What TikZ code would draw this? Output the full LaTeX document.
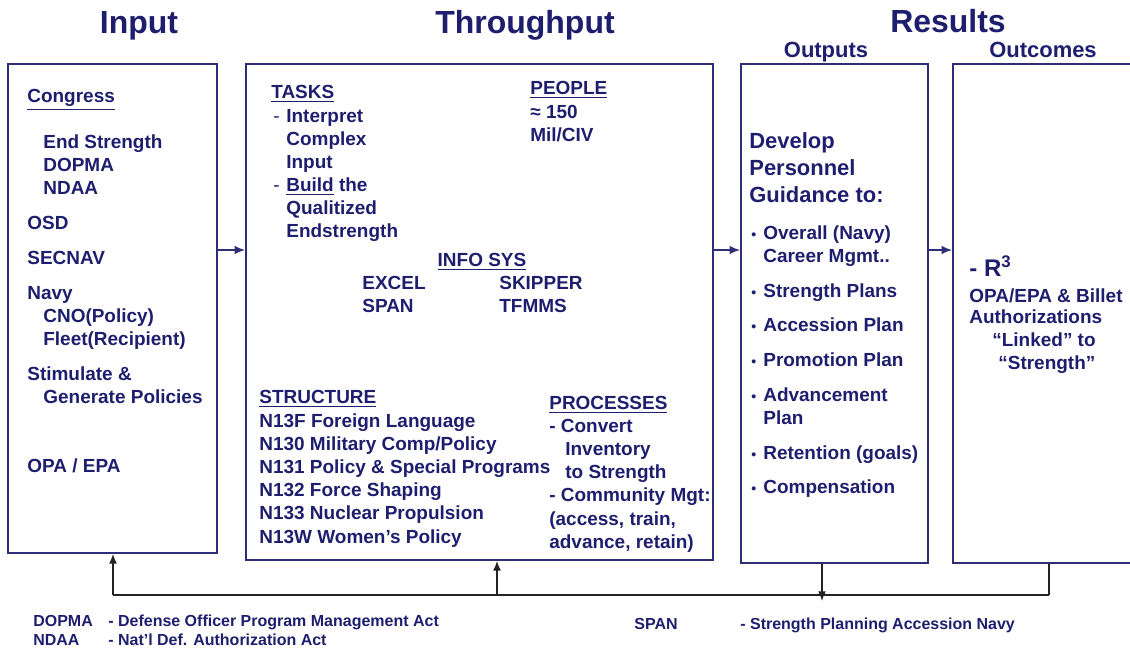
\documentclass[tikz,border=0pt]{standalone}
\usepackage{fontspec}
\setmainfont{Liberation Sans}
\usetikzlibrary{arrows.meta}
\definecolor{navytext}{RGB}{30,30,110}
\definecolor{navyline}{RGB}{46,46,118}
\definecolor{darkline}{RGB}{35,35,35}
\begin{document}
\begin{tikzpicture}[x=0.02cm,y=-0.02cm,
    every node/.style={inner sep=0pt,text=navytext,font=\bfseries\fontsize{10.8}{13}\selectfont},
    txt/.style={anchor=west,text height=1.5ex,text depth=.25ex},
    title/.style={text height=1.5ex,text depth=.25ex,font=\bfseries\fontsize{18.2}{20}\selectfont},
    subtitle/.style={text height=1.5ex,text depth=.25ex,font=\bfseries\fontsize{12.5}{14}\selectfont},
    bigtxt/.style={txt,font=\bfseries\fontsize{12.5}{14}\selectfont},
    foot/.style={txt,font=\bfseries\fontsize{9.1}{11}\selectfont},
    dashtxt/.style={txt,font=\mdseries\fontsize{10.8}{13}\selectfont},
    box/.style={draw=\BOXCOLOR,line width=1.1pt},
    flow/.style={draw=\BOXCOLOR,line width=1pt,-{Latex[length=6pt,width=5pt]}},
    back/.style={draw=\LINECOLOR,line width=0.8pt},
    backarrow/.style={back,-{Latex[length=5.5pt,width=4.5pt]}}]

\def\BOXCOLOR{navyline}
\def\LINECOLOR{darkline}
\def\BUL{\makebox[0.24cm][l]{\fontsize{8}{8}\selectfont\textbullet}}
	\clip (0,0) rectangle (1130,650);

	\node[title] (tinput) at (139,28) {Input};
	\node[title] (tthru) at (525,28) {Throughput};
	\node[title] (tresults) at (948,27) {Results};
	\node[subtitle] (toutputs) at (826,52) {Outputs};
	\node[subtitle] (toutcomes) at (1043,52) {Outcomes};

	\node[box,minimum width=4.18cm,minimum height=9.78cm] (input) at (112.5,308.5) {};
	\node[box,minimum width=9.34cm,minimum height=9.92cm] (thru) at (479.5,312) {};
	\node[box,minimum width=3.74cm,minimum height=9.98cm] (outputs) at (834.5,313.5) {};
	\node[box,minimum width=3.74cm,minimum height=9.98cm] (outcomes) at (1046.5,313.5) {};

	\node[txt] (congress) at (27,97) {\underline{Congress}};
	\node[txt] (endstr) at (43,143) {End Strength};
	\node[txt] (dopma) at (43,166) {DOPMA};
	\node[txt] (ndaa) at (43,189) {NDAA};
	\node[txt] (osd) at (27,224) {OSD};
	\node[txt] (secnav) at (27,259) {SECNAV};
	\node[txt] (navy) at (27,294) {Navy};
	\node[txt] (cno) at (43,317) {CNO(Policy)};
	\node[txt] (fleet) at (43,340) {Fleet(Recipient)};
	\node[txt] (stim) at (27,375) {Stimulate \&};
	\node[txt] (gen) at (43,398) {Generate Policies};
	\node[txt] (opaepa) at (27,467) {OPA / EPA};

	\node[txt] (tasks) at (271,93) {\underline{TASKS}};
	\node[dashtxt] (dasha) at (273,117) {-};
	\node[txt] (interp) at (286,117) {Interpret};
	\node[txt] (complex) at (286,140) {Complex};
	\node[txt] (inp) at (286,163) {Input};
	\node[dashtxt] (dashb) at (273,186) {-};
	\node[txt] (build) at (286,186) {\underline{Build} the};
	\node[txt] (qual) at (286,209) {Qualitized};
	\node[txt] (endstrength) at (286,232) {Endstrength};
	\node[txt] (people) at (530,89) {\underline{PEOPLE}};
	\node[txt] (approx) at (530,113) {≈ 150};
	\node[txt] (milciv) at (530,136) {Mil/CIV};
	\node[txt,anchor=center] (infosys) at (482,261) {\underline{INFO SYS}};
	\node[txt] (excel) at (362,284) {EXCEL};
	\node[txt] (skipper) at (499,284) {SKIPPER};
	\node[txt] (span) at (362,307) {SPAN};
	\node[txt] (tfmms) at (499,307) {TFMMS};
	\node[txt] (structure) at (259,398) {\underline{STRUCTURE}};
	\node[txt] (nf) at (259,422) {N13F Foreign Language};
	\node[txt] (nzero) at (259,445) {N130 Military Comp/Policy};
	\node[txt] (none) at (259,468) {N131 Policy \& Special Programs};
	\node[txt] (ntwo) at (259,491) {N132 Force Shaping};
	\node[txt] (nthree) at (259,514) {N133 Nuclear Propulsion};
	\node[txt] (nw) at (259,538) {N13W Women’s Policy};
	\node[txt] (processes) at (549,404) {\underline{PROCESSES}};
	\node[txt] (convert) at (549,427) {- Convert};
	\node[txt] (inventory) at (565,450) {Inventory};
	\node[txt] (tostrength) at (565,473) {to Strength};
	\node[txt] (community) at (549,496) {- Community Mgt:};
	\node[txt] (access) at (549,520) {(access, train,};
	\node[txt] (advance) at (549,543) {advance, retain)};

	\node[bigtxt] (develop) at (749,143) {Develop};
	\node[bigtxt] (personnel) at (749,170) {Personnel};
	\node[bigtxt] (guidance) at (749,197) {Guidance to:};
	\node[txt] (overall) at (751,234) {\BUL Overall (Navy)};
	\node[txt] (career) at (763,257) {Career Mgmt..};
	\node[txt] (strplans) at (751,292) {\BUL Strength Plans};
	\node[txt] (accplan) at (751,326) {\BUL Accession Plan};
	\node[txt] (promplan) at (751,361) {\BUL Promotion Plan};
	\node[txt] (advplan) at (751,396) {\BUL Advancement};
	\node[txt] (plan) at (763,419) {Plan};
	\node[txt] (retention) at (751,454) {\BUL Retention (goals)};
	\node[txt] (compensation) at (751,488) {\BUL Compensation};

	\node[txt,font=\bfseries\fontsize{13.7}{15}\selectfont] (rcube) at (969,271) {- R\textsuperscript{3}};
	\node[txt] (billet) at (969,297) {OPA/EPA \& Billet};
	\node[txt] (auth) at (969,318) {Authorizations};
	\node[txt] (linked) at (992,341) {“Linked” to};
	\node[txt] (strength) at (998,364) {“Strength”};

	\node[foot] (fdopma) at (33,621) {DOPMA};
	\node[foot] (fdopmadef) at (108,621) {- Defense Officer Program Management Act};
	\node[foot] (fndaa) at (33,640) {NDAA};
	\node[foot] (fndaadef) at (108,640) {- Nat’l Def. Authorization Act};
	\node[foot] (fspan) at (634,624) {SPAN};
	\node[foot] (fspandef) at (740,624) {- Strength Planning Accession Navy};

	\coordinate (midrow) at (0,250);
	\draw[flow] (input.east |- midrow) -- (thru.west |- midrow);
	\draw[flow] (thru.east |- midrow) -- (outputs.west |- midrow);
	\draw[flow] (outputs.east |- midrow) -- (outcomes.west |- midrow);

	\coordinate (fbleft) at (113,595);
	\coordinate (fbmid) at (497,595);
	\coordinate (fbout) at (822,601);
	\coordinate (fbright) at (1049,595);
	\draw[back] (fbleft) -- (fbright);
	\draw[backarrow] (fbleft) -- (input.south -| fbleft);
	\draw[backarrow] (fbmid) -- (thru.south -| fbmid);
	\draw[backarrow] (outputs.south -| fbout) -- (fbout);
	\draw[back] (outcomes.south -| fbright) -- (fbright);

          \end{tikzpicture}
\end{document}
